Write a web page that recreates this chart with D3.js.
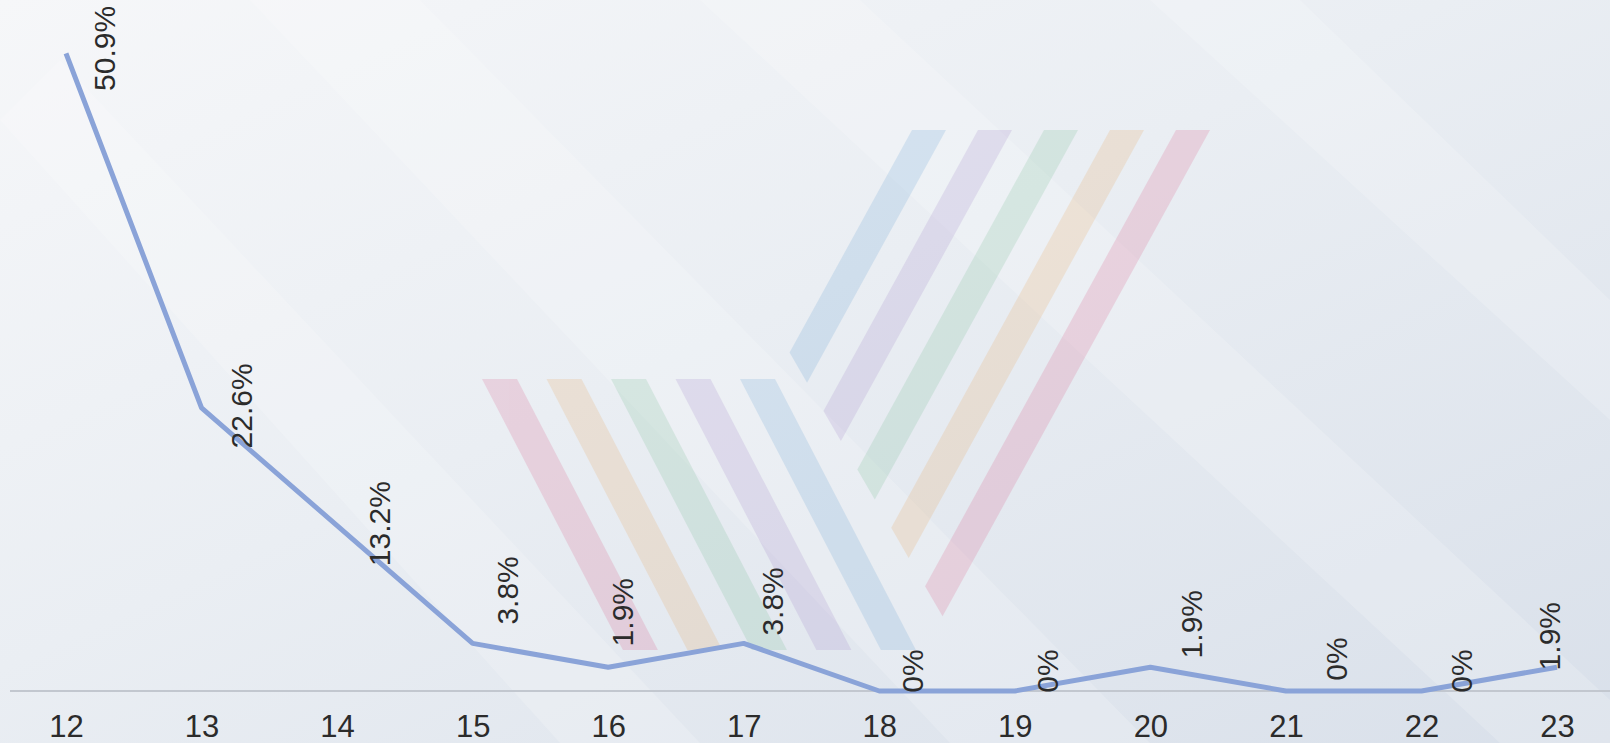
<!DOCTYPE html>
<html>
<head>
<meta charset="utf-8">
<script src="https://cdn.jsdelivr.net/npm/d3@7/dist/d3.min.js"></script>
<style>
  html, body { margin: 0; padding: 0; overflow: hidden; }
  body { width: 1610px; height: 743px; }
  text { font-family: "Liberation Sans", Arial, sans-serif; }
</style>
</head>
<body>
<div id="chart"></div>
<script>
// ----------------------
// Data
// ----------------------
const categories = ["12", "13", "14", "15", "16", "17", "18", "19", "20", "21", "22", "23"];
const values = [50.9, 22.6, 13.2, 3.8, 1.9, 3.8, 0, 0, 1.9, 0, 0, 1.9];
const valueLabels = values.map(v => v + "%");

// label nudges (baseline offset, centre offset)
const labelNudge = [[49, -5], [50, -2], [53, -2], [45, -53], [25, -55], [39, -42],
                    [44, -20], [43, -20], [52, -43], [61, -32], [51, -20], [3, -31]];

const width = 1610;
const height = 743;

const svg = d3.select("#chart")
    .append("svg")
    .attr("width", width)
    .attr("height", height);

// ----------------------
// Background
// ----------------------
const defs = svg.append("defs");
const bg = defs.append("linearGradient")
    .attr("id", "bg")
    .attr("x1", "0").attr("y1", "0")
    .attr("x2", "1").attr("y2", "1");
bg.append("stop").attr("offset", "0%").attr("stop-color", "#f6f7f9");
bg.append("stop").attr("offset", "45%").attr("stop-color", "#eaeef3");
bg.append("stop").attr("offset", "100%").attr("stop-color", "#d9e0ea");

svg.append("rect")
    .attr("width", width)
    .attr("height", height)
    .attr("fill", "url(#bg)");

// faint diagonal light streaks
const streaks = [
    [[0, 120], [60, 60], [700, 743], [560, 743]],
    [[250, 0], [420, 0], [1150, 743], [950, 743]],
    [[700, 0], [860, 0], [1610, 700], [1610, 743], [1500, 743]],
    [[1150, 0], [1300, 0], [1610, 300], [1610, 420]]
];
svg.selectAll(".streak")
    .data(streaks)
    .enter()
    .append("polygon")
    .attr("points", d => d.map(p => p.join(",")).join(" "))
    .attr("fill", "#ffffff")
    .attr("opacity", 0.18);

// ----------------------
// Watermark (stripes)
// ----------------------
const wm = svg.append("g").attr("opacity", 0.18);
const lowColors = ["#d9507e", "#e8a050", "#6cb88a", "#9b7cc4", "#5a9ad0"];
const upColors = ["#5a9ad0", "#9b7cc4", "#6cb88a", "#e8a050", "#d9507e"];

lowColors.forEach((c, i) => {
    const xl = 482 + 64.5 * i, w = 35, y0 = 379, y1 = 650, s = 0.52;
    const pts = [[xl, y0], [xl + w, y0], [xl + w + s * (y1 - y0), y1], [xl + s * (y1 - y0), y1]];
    wm.append("polygon").attr("points", pts.map(p => p.join(",")).join(" ")).attr("fill", c);
});

upColors.forEach((c, j) => {
    const xl = 912 + 66 * j, w = 34, y0 = 130, s = 0.55;
    const yl = (xl - 513.6) / 1.13;
    const yr = (xl + w - 513.6) / 1.13;
    const pts = [[xl, y0], [xl + w, y0], [xl + w - s * (yr - y0), yr], [xl - s * (yl - y0), yl]];
    wm.append("polygon").attr("points", pts.map(p => p.join(",")).join(" ")).attr("fill", c);
});

// ----------------------
// Scales & axis
// ----------------------
const x = d3.scalePoint()
    .domain(categories)
    .range([66, 1557]);

const y = d3.scaleLinear()
    .domain([0, 55])
    .range([691, 2]);

svg.append("line")
    .attr("x1", 10).attr("x2", width)
    .attr("y1", y(0)).attr("y2", y(0))
    .attr("stroke", "#c2c7cf")
    .attr("stroke-width", 2);

const xAxis = svg.append("g")
    .attr("transform", `translate(0, ${y(0)})`)
    .call(d3.axisBottom(x).tickSize(0).tickPadding(24));
xAxis.select(".domain").remove();
xAxis.selectAll("text")
    .attr("font-family", "'Liberation Sans', Arial, sans-serif")
    .attr("font-size", 31)
    .attr("fill", "#2b2b2b");

// ----------------------
// Line
// ----------------------
const line = d3.line()
    .x((d, i) => x(categories[i]))
    .y(d => y(d));

svg.append("path")
    .datum(values)
    .attr("d", line)
    .attr("fill", "none")
    .attr("stroke", "#8aa3d8")
    .attr("stroke-width", 5)
    .attr("stroke-linejoin", "round");

// ----------------------
// Rotated value labels
// ----------------------
svg.selectAll(".val")
    .data(values)
    .enter()
    .append("text")
    .attr("class", "val")
    .attr("transform", (d, i) =>
        `translate(${x(categories[i]) + labelNudge[i][0]}, ${y(d) + labelNudge[i][1]}) rotate(-90)`)
    .attr("text-anchor", "middle")
    .attr("font-size", 30)
    .attr("fill", "#2b2b2b")
    .text((d, i) => valueLabels[i]);
</script>
</body>
</html>
